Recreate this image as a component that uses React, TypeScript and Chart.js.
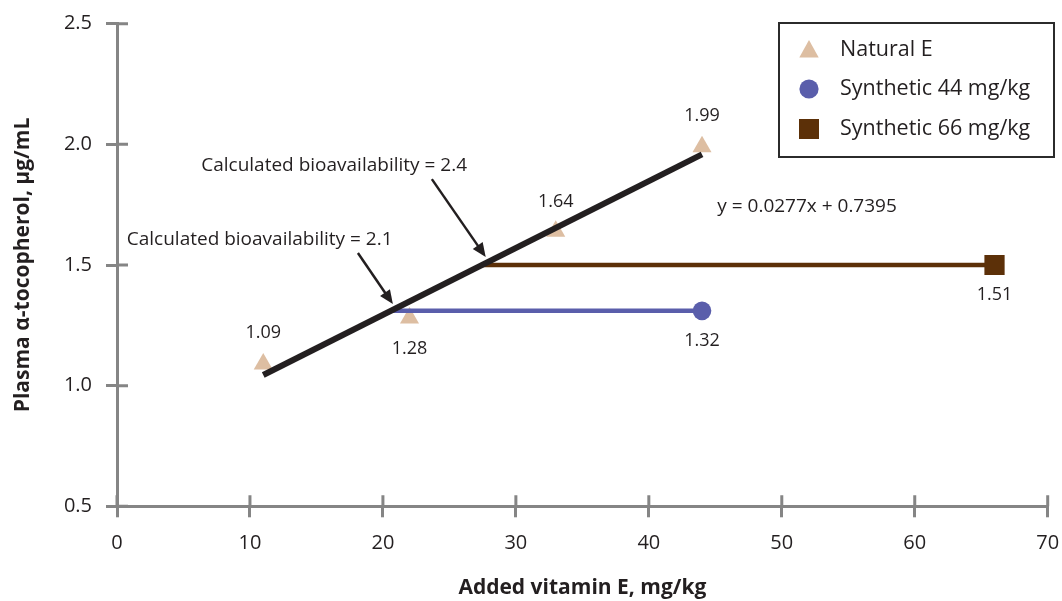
import React, { useEffect, useRef } from 'react';
import { Chart, registerables } from 'chart.js';

Chart.register(...registerables);

// ---------- data ----------
const xTickValues = [0, 10, 20, 30, 40, 50, 60, 70];
const yTickValues = [0.5, 1.0, 1.5, 2.0, 2.5];

const naturalDoses = [11, 22, 33, 44];
const naturalValues = [1.09, 1.28, 1.64, 1.99];
const naturalLabels = ['1.09', '1.28', '1.64', '1.99'];

const syn44LineX = [20.6, 44];
const syn44Value = 1.31;
const syn44Label = '1.32';

const syn66LineX = [27.5, 66];
const syn66Value = 1.5;
const syn66Label = '1.51';

const regressionSlope = 0.0277;
const regressionIntercept = 0.7395;
const regressionX = [11, 44];
const regressionText = 'y = 0.0277x + 0.7395';

const seriesNames = ['Natural E', 'Synthetic 44 mg/kg', 'Synthetic 66 mg/kg'];
const annotationTexts = ['Calculated bioavailability = 2.4', 'Calculated bioavailability = 2.1'];

// ---------- styles / placement ----------
const FONT = "'Open Sans', sans-serif";
const TEXT = '#231F20';
const AXIS = '#858585';
const TAN = '#DDBEA2';
const PURPLE = '#5A5EAB';
const BROWN = '#5C3008';

const naturalLabelOffsets = [-31, 31, -29, -31]; // px, vertical
const synLabelOffset = 30;

const annotationPos = [
  { x: 16.33, y: 1.914 },
  { x: 10.73, y: 1.604 },
];
const arrows = [
  { from: { x: 23.68, y: 1.856 }, to: { x: 27.73, y: 1.533 } },
  { from: { x: 18.12, y: 1.55 }, to: { x: 20.75, y: 1.338 } },
];
const equationPos = { x: 51.9, y: 1.74 };

const CA = { left: 117, right: 1049.6, top: 23.7, bottom: 506.3 };
const W = 1062;
const H = 601;

const overlayPlugin = {
  id: 'overlay',
  afterDraw(chart: any) {
    const ctx = chart.ctx;
    const xs = chart.scales.x;
    const ys = chart.scales.y;
    const px = (v: number) => xs.getPixelForValue(v);
    const py = (v: number) => ys.getPixelForValue(v);
    ctx.save();
    // inner halves of the crossing tick marks
    ctx.strokeStyle = AXIS;
    ctx.lineWidth = 3;
    ctx.beginPath();
    xTickValues.forEach((v) => {
      const x = px(v);
      ctx.moveTo(x, chart.chartArea.bottom);
      ctx.lineTo(x, chart.chartArea.bottom - 11);
    });
    yTickValues.forEach((v) => {
      const y = py(v);
      ctx.moveTo(chart.chartArea.left, y);
      ctx.lineTo(chart.chartArea.left + 11, y);
    });
    ctx.stroke();
    ctx.restore();
  },
  afterDatasetsDraw(chart: any) {
    const ctx = chart.ctx;
    const xs = chart.scales.x;
    const ys = chart.scales.y;
    const px = (v: number) => xs.getPixelForValue(v);
    const py = (v: number) => ys.getPixelForValue(v);
    ctx.save();
    ctx.fillStyle = TEXT;
    ctx.font = `18px ${FONT}`;
    ctx.textAlign = 'center';
    ctx.textBaseline = 'middle';
    naturalDoses.forEach((d, i) => {
      ctx.fillText(naturalLabels[i], px(d), py(naturalValues[i]) + naturalLabelOffsets[i]);
    });
    ctx.fillText(syn44Label, px(syn44LineX[1]), py(syn44Value) + synLabelOffset);
    ctx.fillText(syn66Label, px(syn66LineX[1]), py(syn66Value) + synLabelOffset);

    // annotations
    ctx.font = `19px ${FONT}`;
    annotationTexts.forEach((t, i) => {
      ctx.fillText(t, px(annotationPos[i].x), py(annotationPos[i].y));
    });
    ctx.fillText(regressionText, px(equationPos.x), py(equationPos.y));

    // arrows
    ctx.strokeStyle = TEXT;
    ctx.fillStyle = TEXT;
    ctx.lineWidth = 2.5;
    arrows.forEach((a) => {
      const x1 = px(a.from.x), y1 = py(a.from.y);
      const x2 = px(a.to.x), y2 = py(a.to.y);
      const ang = Math.atan2(y2 - y1, x2 - x1);
      const hl = 14, hw = 6;
      const bx = x2 - hl * Math.cos(ang), by = y2 - hl * Math.sin(ang);
      ctx.beginPath();
      ctx.moveTo(x1, y1);
      ctx.lineTo(bx + 2 * Math.cos(ang), by + 2 * Math.sin(ang));
      ctx.stroke();
      ctx.beginPath();
      ctx.moveTo(x2, y2);
      ctx.lineTo(bx + hw * Math.sin(ang), by - hw * Math.cos(ang));
      ctx.lineTo(bx - hw * Math.sin(ang), by + hw * Math.cos(ang));
      ctx.closePath();
      ctx.fill();
    });

    // legend
    const lx = 779, ly = 23, lw = 275, lh = 134;
    ctx.strokeStyle = '#2B2B2B';
    ctx.lineWidth = 2;
    ctx.strokeRect(lx, ly, lw, lh);
    const rows = [50, 89, 129];
    const mx = 809;
    ctx.textAlign = 'left';
    ctx.font = `21.5px ${FONT}`;
    seriesNames.forEach((n, i) => {
      ctx.fillStyle = TEXT;
      ctx.fillText(n, 840, rows[i]);
    });
    // triangle
    ctx.fillStyle = TAN;
    ctx.beginPath();
    ctx.moveTo(mx, rows[0] - 10);
    ctx.lineTo(mx + 9.7, rows[0] + 7.5);
    ctx.lineTo(mx - 9.7, rows[0] + 7.5);
    ctx.closePath();
    ctx.fill();
    // circle
    ctx.fillStyle = PURPLE;
    ctx.beginPath();
    ctx.arc(mx, rows[1], 9.6, 0, Math.PI * 2);
    ctx.fill();
    // square
    ctx.fillStyle = BROWN;
    ctx.fillRect(mx - 10, rows[2] - 10, 20, 20);
    ctx.restore();
  },
};

export default function App() {
  const ref = useRef<HTMLCanvasElement>(null);
  useEffect(() => {
    if (!ref.current) return;
    const regData = regressionX.map((x) => ({ x, y: regressionSlope * x + regressionIntercept }));
    const chart = new Chart(ref.current, {
      type: 'scatter',
      data: {
        datasets: [
          {
            label: 'Regression',
            data: regData,
            showLine: true,
            borderColor: '#231F20',
            borderWidth: 6,
            pointRadius: 0,
            order: 0,
          } as any,
          {
            label: seriesNames[1],
            data: syn44LineX.map((x) => ({ x, y: syn44Value })),
            showLine: true,
            borderColor: PURPLE,
            borderWidth: 4.5,
            backgroundColor: PURPLE,
            pointBackgroundColor: PURPLE,
            pointBorderWidth: 0,
            pointRadius: [0, 9.3],
            pointStyle: 'circle',
            order: 2,
          },
          {
            label: seriesNames[2],
            data: syn66LineX.map((x) => ({ x, y: syn66Value })),
            showLine: true,
            borderColor: BROWN,
            borderWidth: 4.5,
            backgroundColor: BROWN,
            pointBackgroundColor: BROWN,
            pointBorderWidth: 0,
            pointRadius: [0, 14.3],
            pointStyle: 'rect',
            order: 1,
          },
          {
            label: seriesNames[0],
            data: naturalDoses.map((x, i) => ({ x, y: naturalValues[i] })),
            showLine: false,
            backgroundColor: TAN,
            pointBackgroundColor: TAN,
            pointBorderWidth: 0,
            pointRadius: 11,
            pointStyle: 'triangle',
            order: 3,
          },
        ],
      },
      options: {
        responsive: false,
        devicePixelRatio: 1,
        animation: false,
        events: [],
        layout: { padding: { left: 0, right: W - CA.right - 3, top: CA.top, bottom: 0 } },
        plugins: { legend: { display: false }, tooltip: { enabled: false } },
        scales: {
          x: {
            type: 'linear',
            min: 0,
            max: 70,
            afterBuildTicks: (s: any) => {
              s.ticks = xTickValues.map((v) => ({ value: v }));
            },
            ticks: {
              color: TEXT,
              font: { family: FONT, size: 20 },
              padding: 14,
              maxRotation: 0,
              callback: (v: any) => String(v),
            },
            grid: { drawOnChartArea: false, color: AXIS, lineWidth: 3, tickLength: 11, tickColor: AXIS },
            border: { color: AXIS, width: 3 },
            title: {
              display: true,
              text: 'Added vitamin E, mg/kg',
              color: TEXT,
              font: { family: FONT, size: 21, weight: 'bold' },
              padding: { top: 0, bottom: 0 },
            },
            afterFit: (s: any) => {
              s.height = H - CA.bottom;
              s.paddingLeft = 0;
              s.paddingRight = 0;
            },
          },
          y: {
            type: 'linear',
            min: 0.5,
            max: 2.5,
            afterBuildTicks: (s: any) => {
              s.ticks = yTickValues.map((v) => ({ value: v }));
            },
            ticks: {
              color: TEXT,
              font: { family: FONT, size: 20 },
              padding: 14,
              callback: (v: any) => Number(v).toFixed(1),
            },
            grid: { drawOnChartArea: false, color: AXIS, lineWidth: 3, tickLength: 11, tickColor: AXIS },
            border: { color: AXIS, width: 3 },
            title: {
              display: true,
              text: 'Plasma α-tocopherol, µg/mL',
              color: TEXT,
              font: { family: FONT, size: 21, weight: 'bold' },
              padding: { top: 10, bottom: 0 },
            },
            afterFit: (s: any) => {
              s.width = CA.left;
              s.paddingTop = 0;
              s.paddingBottom = 0;
            },
          },
        },
      },
      plugins: [overlayPlugin],
    });
    return () => chart.destroy();
  }, []);
  return (
    <div style={{ position: 'absolute', left: 0, top: 0, width: W, height: H, background: '#fff' }}>
      <canvas ref={ref} width={W} height={H} style={{ width: W, height: H, display: 'block' }} />
    </div>
  );
}
